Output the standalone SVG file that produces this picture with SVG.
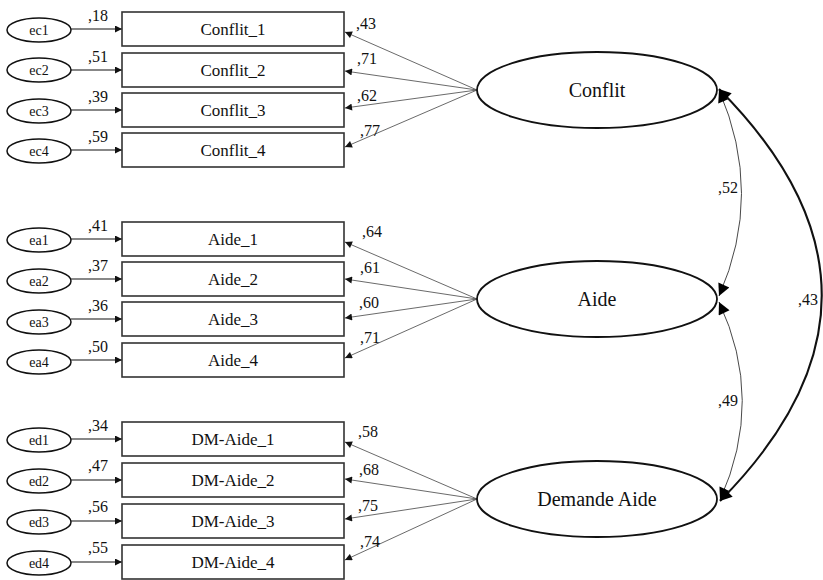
<svg xmlns="http://www.w3.org/2000/svg" width="823" height="580" viewBox="0 0 823 580" font-family="Liberation Serif, DejaVu Serif, serif">
<style>
text{font-family:'Liberation Serif','DejaVu Serif',serif;fill:#111}
.box{fill:#fff;stroke:#333;stroke-width:1.6}
.err{fill:#fff;stroke:#111;stroke-width:1.5}
.lat{fill:#fff;stroke:#111;stroke-width:1.8}
.bt{font-size:17px;text-anchor:middle}
.et{font-size:14px;text-anchor:middle}
.lt{font-size:20px;text-anchor:middle}
.n{font-size:16px}
.ea{stroke:#111;stroke-width:1.1;fill:none;marker-end:url(#sm)}
.ld{stroke:#444;stroke-width:0.8;fill:none;marker-end:url(#sm)}
.cv{stroke:#333;stroke-width:0.9;fill:none;marker-start:url(#big);marker-end:url(#big)}
.cvt{stroke:#111;stroke-width:2;fill:none;marker-start:url(#big);marker-end:url(#big)}
</style>
<defs>
<marker id="sm" viewBox="0 0 10 10" refX="10" refY="5" markerWidth="8" markerHeight="7" markerUnits="userSpaceOnUse" orient="auto"><path d="M0,0L10,5L0,10z" fill="#111"/></marker>
<marker id="big" viewBox="0 0 10 10" refX="10" refY="5" markerWidth="15" markerHeight="12" markerUnits="userSpaceOnUse" orient="auto-start-reverse"><path d="M0,0L10,5L0,10z" fill="#000"/></marker>
</defs>

<g id="connectors">
<line class="ea" x1="71" y1="29" x2="122" y2="29"/>
<line class="ea" x1="71" y1="70" x2="122" y2="70"/>
<line class="ea" x1="71" y1="110" x2="122" y2="110"/>
<line class="ea" x1="71" y1="150" x2="122" y2="150"/>
<line class="ea" x1="71" y1="239" x2="122" y2="239"/>
<line class="ea" x1="71" y1="279" x2="122" y2="279"/>
<line class="ea" x1="71" y1="319" x2="122" y2="319"/>
<line class="ea" x1="71" y1="360" x2="122" y2="360"/>
<line class="ea" x1="71" y1="439" x2="122" y2="439"/>
<line class="ea" x1="71" y1="480" x2="122" y2="480"/>
<line class="ea" x1="71" y1="521" x2="122" y2="521"/>
<line class="ea" x1="71" y1="562" x2="122" y2="562"/>
<line class="ld" x1="477" y1="90" x2="345" y2="32"/>
<line class="ld" x1="477" y1="90" x2="345" y2="71"/>
<line class="ld" x1="477" y1="90" x2="345" y2="108"/>
<line class="ld" x1="477" y1="90" x2="345" y2="147"/>
<line class="ld" x1="477" y1="299" x2="345" y2="242"/>
<line class="ld" x1="477" y1="299" x2="345" y2="279"/>
<line class="ld" x1="477" y1="299" x2="345" y2="318"/>
<line class="ld" x1="477" y1="299" x2="345" y2="358"/>
<line class="ld" x1="477" y1="499" x2="345" y2="442"/>
<line class="ld" x1="477" y1="499" x2="345" y2="479"/>
<line class="ld" x1="477" y1="499" x2="345" y2="519"/>
<line class="ld" x1="477" y1="499" x2="345" y2="560"/>
<path class="cv" d="M719,90 Q764,194 719,296"/>
<path class="cv" d="M719,302 Q765,400 720,500"/>
<path class="cvt" d="M719,89 Q924,295 720,501"/>
<text class="n" x="88" y="21">,18</text>
<text class="n" x="88" y="62">,51</text>
<text class="n" x="88" y="102">,39</text>
<text class="n" x="88" y="142">,59</text>
<text class="n" x="88" y="231">,41</text>
<text class="n" x="88" y="271">,37</text>
<text class="n" x="88" y="311">,36</text>
<text class="n" x="88" y="352">,50</text>
<text class="n" x="88" y="431">,34</text>
<text class="n" x="88" y="471">,47</text>
<text class="n" x="88" y="512">,56</text>
<text class="n" x="88" y="553">,55</text>
<text class="n" x="356" y="29">,43</text>
<text class="n" x="357" y="64">,71</text>
<text class="n" x="357" y="101">,62</text>
<text class="n" x="360" y="136">,77</text>
<text class="n" x="362" y="237">,64</text>
<text class="n" x="360" y="273">,61</text>
<text class="n" x="359" y="308">,60</text>
<text class="n" x="360" y="343">,71</text>
<text class="n" x="358" y="437">,58</text>
<text class="n" x="359" y="475">,68</text>
<text class="n" x="358" y="511">,75</text>
<text class="n" x="360" y="547">,74</text>
<text class="n" x="718" y="193">,52</text>
<text class="n" x="718" y="406">,49</text>
<text class="n" x="798" y="305">,43</text>
</g>

<g id="Conflit"><ellipse class="lat" cx="597" cy="90" rx="120" ry="38"/><text class="lt" x="597" y="97">Conflit</text></g>
<g id="Aide"><ellipse class="lat" cx="597" cy="299" rx="120" ry="38"/><text class="lt" x="597" y="306">Aide</text></g>
<g id="DemandeAide"><ellipse class="lat" cx="597" cy="499" rx="120" ry="38"/><text class="lt" x="597" y="506">Demande Aide</text></g>

<g id="Conflit_1"><rect class="box" x="122" y="12" width="222" height="34"/><text class="bt" x="233" y="35">Conflit_1</text></g>
<g id="Conflit_2"><rect class="box" x="122" y="53" width="222" height="34"/><text class="bt" x="233" y="76">Conflit_2</text></g>
<g id="Conflit_3"><rect class="box" x="122" y="93" width="222" height="34"/><text class="bt" x="233" y="116">Conflit_3</text></g>
<g id="Conflit_4"><rect class="box" x="122" y="133" width="222" height="34"/><text class="bt" x="233" y="156">Conflit_4</text></g>
<g id="Aide_1"><rect class="box" x="122" y="222" width="222" height="34"/><text class="bt" x="233" y="245">Aide_1</text></g>
<g id="Aide_2"><rect class="box" x="122" y="262" width="222" height="34"/><text class="bt" x="233" y="285">Aide_2</text></g>
<g id="Aide_3"><rect class="box" x="122" y="302" width="222" height="34"/><text class="bt" x="233" y="325">Aide_3</text></g>
<g id="Aide_4"><rect class="box" x="122" y="343" width="222" height="34"/><text class="bt" x="233" y="366">Aide_4</text></g>
<g id="DM-Aide_1"><rect class="box" x="122" y="422" width="222" height="34"/><text class="bt" x="233" y="445">DM-Aide_1</text></g>
<g id="DM-Aide_2"><rect class="box" x="122" y="463" width="222" height="34"/><text class="bt" x="233" y="486">DM-Aide_2</text></g>
<g id="DM-Aide_3"><rect class="box" x="122" y="504" width="222" height="34"/><text class="bt" x="233" y="527">DM-Aide_3</text></g>
<g id="DM-Aide_4"><rect class="box" x="122" y="545" width="222" height="34"/><text class="bt" x="233" y="568">DM-Aide_4</text></g>

<g id="ec1"><ellipse class="err" cx="39" cy="30" rx="32" ry="12"/><text class="et" x="39" y="35">ec1</text></g>
<g id="ec2"><ellipse class="err" cx="39" cy="70" rx="32" ry="12"/><text class="et" x="39" y="75">ec2</text></g>
<g id="ec3"><ellipse class="err" cx="39" cy="111" rx="32" ry="12"/><text class="et" x="39" y="116">ec3</text></g>
<g id="ec4"><ellipse class="err" cx="39" cy="151" rx="32" ry="12"/><text class="et" x="39" y="156">ec4</text></g>
<g id="ea1"><ellipse class="err" cx="39" cy="240" rx="32" ry="12"/><text class="et" x="39" y="245">ea1</text></g>
<g id="ea2"><ellipse class="err" cx="39" cy="281" rx="32" ry="12"/><text class="et" x="39" y="286">ea2</text></g>
<g id="ea3"><ellipse class="err" cx="39" cy="322" rx="32" ry="12"/><text class="et" x="39" y="327">ea3</text></g>
<g id="ea4"><ellipse class="err" cx="39" cy="362" rx="32" ry="12"/><text class="et" x="39" y="367">ea4</text></g>
<g id="ed1"><ellipse class="err" cx="39" cy="440" rx="32" ry="12"/><text class="et" x="39" y="445">ed1</text></g>
<g id="ed2"><ellipse class="err" cx="39" cy="481" rx="32" ry="12"/><text class="et" x="39" y="486">ed2</text></g>
<g id="ed3"><ellipse class="err" cx="39" cy="522" rx="32" ry="12"/><text class="et" x="39" y="527">ed3</text></g>
<g id="ed4"><ellipse class="err" cx="39" cy="563" rx="32" ry="12"/><text class="et" x="39" y="568">ed4</text></g>
</svg>
